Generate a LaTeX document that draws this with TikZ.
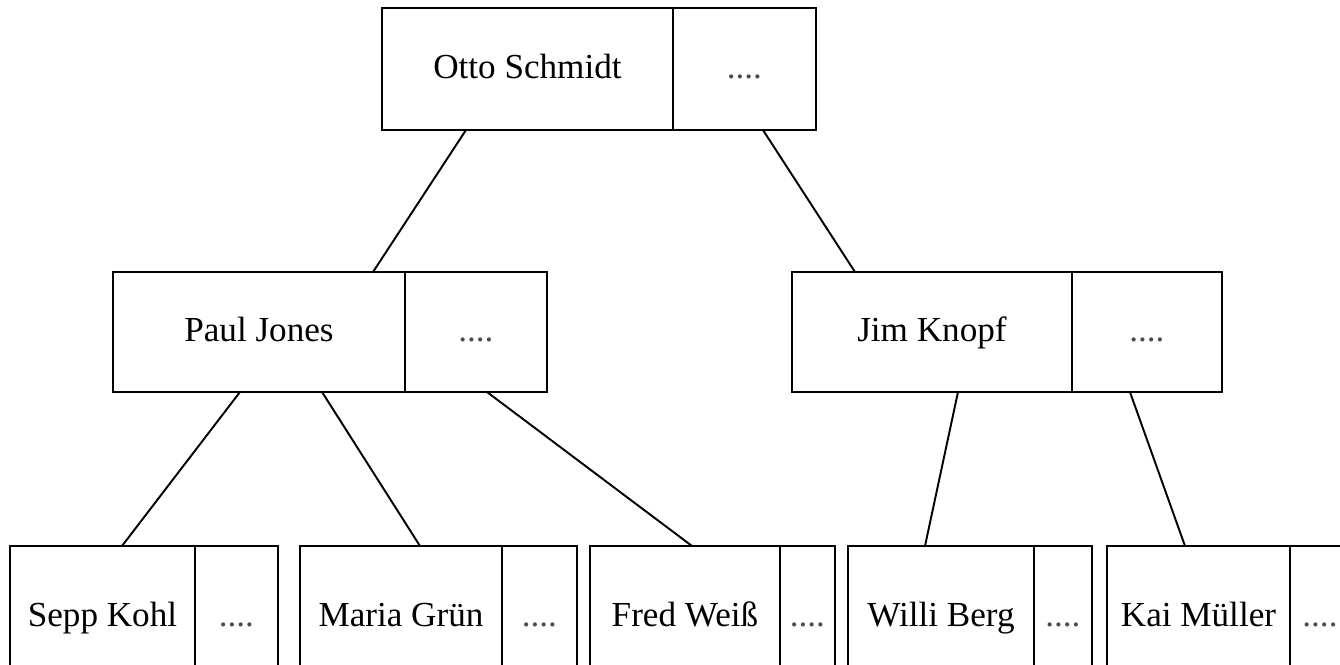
\documentclass[tikz,border=0pt]{standalone}
\usepackage{fontspec}
\setmainfont{Liberation Serif}
\usetikzlibrary{calc,positioning}

\begin{document}
\begin{tikzpicture}[
        x=0.02cm, y=-0.02cm, % one unit is one pixel of the sketch
        namebox/.style={rectangle, draw=black, line width=1.5pt, outer sep=0pt, inner sep=2pt, anchor=north west, text height=15pt, text depth=4pt, font=\fontsize{20}{24}\selectfont},
        morebox/.style={rectangle, draw=black, line width=1.5pt, outer sep=0pt, inner sep=2pt, text height=15pt, text depth=4pt, text=black!70, font=\fontsize{20}{24}\selectfont},
        link/.style={line width=1.1pt}
    ]
    \useasboundingbox (0,0) rectangle (1340,665);
    \clip (0,0) rectangle (1340,665);
    % root
    \node[namebox, minimum width=5.82cm, minimum height=2.44cm] (otto) at (382,8) {Otto Schmidt};
    \node[morebox, minimum width=2.86cm, minimum height=2.44cm, right=0pt of otto] (ottomore) {....};
    % second level
    \node[namebox, minimum width=5.84cm, minimum height=2.4cm] (paul) at (113,272) {Paul Jones};
    \node[morebox, minimum width=2.84cm, minimum height=2.4cm, right=0pt of paul] (paulmore) {....};
    \node[namebox, minimum width=5.6cm, minimum height=2.4cm] (jim) at (792,272) {Jim Knopf};
    \node[morebox, minimum width=3cm, minimum height=2.4cm, right=0pt of jim] (jimmore) {....};
    % leaves (cut off at the bottom)
    \node[namebox, minimum width=3.7cm, minimum height=2.84cm] (sepp) at (10,546) {Sepp Kohl};
    \node[morebox, minimum width=1.66cm, minimum height=2.84cm, right=0pt of sepp] (seppmore) {....};
    \node[namebox, minimum width=4.04cm, minimum height=2.84cm] (maria) at (300,546) {Maria Grün};
    \node[morebox, minimum width=1.5cm, minimum height=2.84cm, right=0pt of maria] (mariamore) {....};
    \node[namebox, minimum width=3.8cm, minimum height=2.84cm] (fred) at (590,546) {Fred Weiß};
    \node[morebox, minimum width=1.1cm, minimum height=2.84cm, right=0pt of fred] (fredmore) {....};
    \node[namebox, minimum width=3.72cm, minimum height=2.84cm] (willi) at (848,546) {Willi Berg};
    \node[morebox, minimum width=1.16cm, minimum height=2.84cm, right=0pt of willi] (willimore) {....};
    \node[namebox, minimum width=3.66cm, minimum height=2.84cm] (kai) at (1107,546) {Kai Müller};
    \node[morebox, minimum width=1.2cm, minimum height=2.84cm, right=0pt of kai] (kaimore) {....};
    % edges
    \draw[link] ($(otto.south west)+(84,0)$) -- ($(paul.north west)+(260,0)$);
    \draw[link] ($(ottomore.south west)+(90,0)$) -- ($(jim.north west)+(63,0)$);
    \draw[link] ($(paul.south west)+(127,0)$) -- ($(sepp.north west)+(112,0)$);
    \draw[link] ($(paul.south west)+(209,0)$) -- ($(maria.north west)+(120,0)$);
    \draw[link] ($(paulmore.south west)+(82,0)$) -- ($(fred.north west)+(102,0)$);
    \draw[link] ($(jim.south west)+(166,0)$) -- ($(willi.north west)+(77,0)$);
    \draw[link] ($(jimmore.south west)+(58,0)$) -- ($(kai.north west)+(78,0)$);
\end{tikzpicture}
\end{document}
